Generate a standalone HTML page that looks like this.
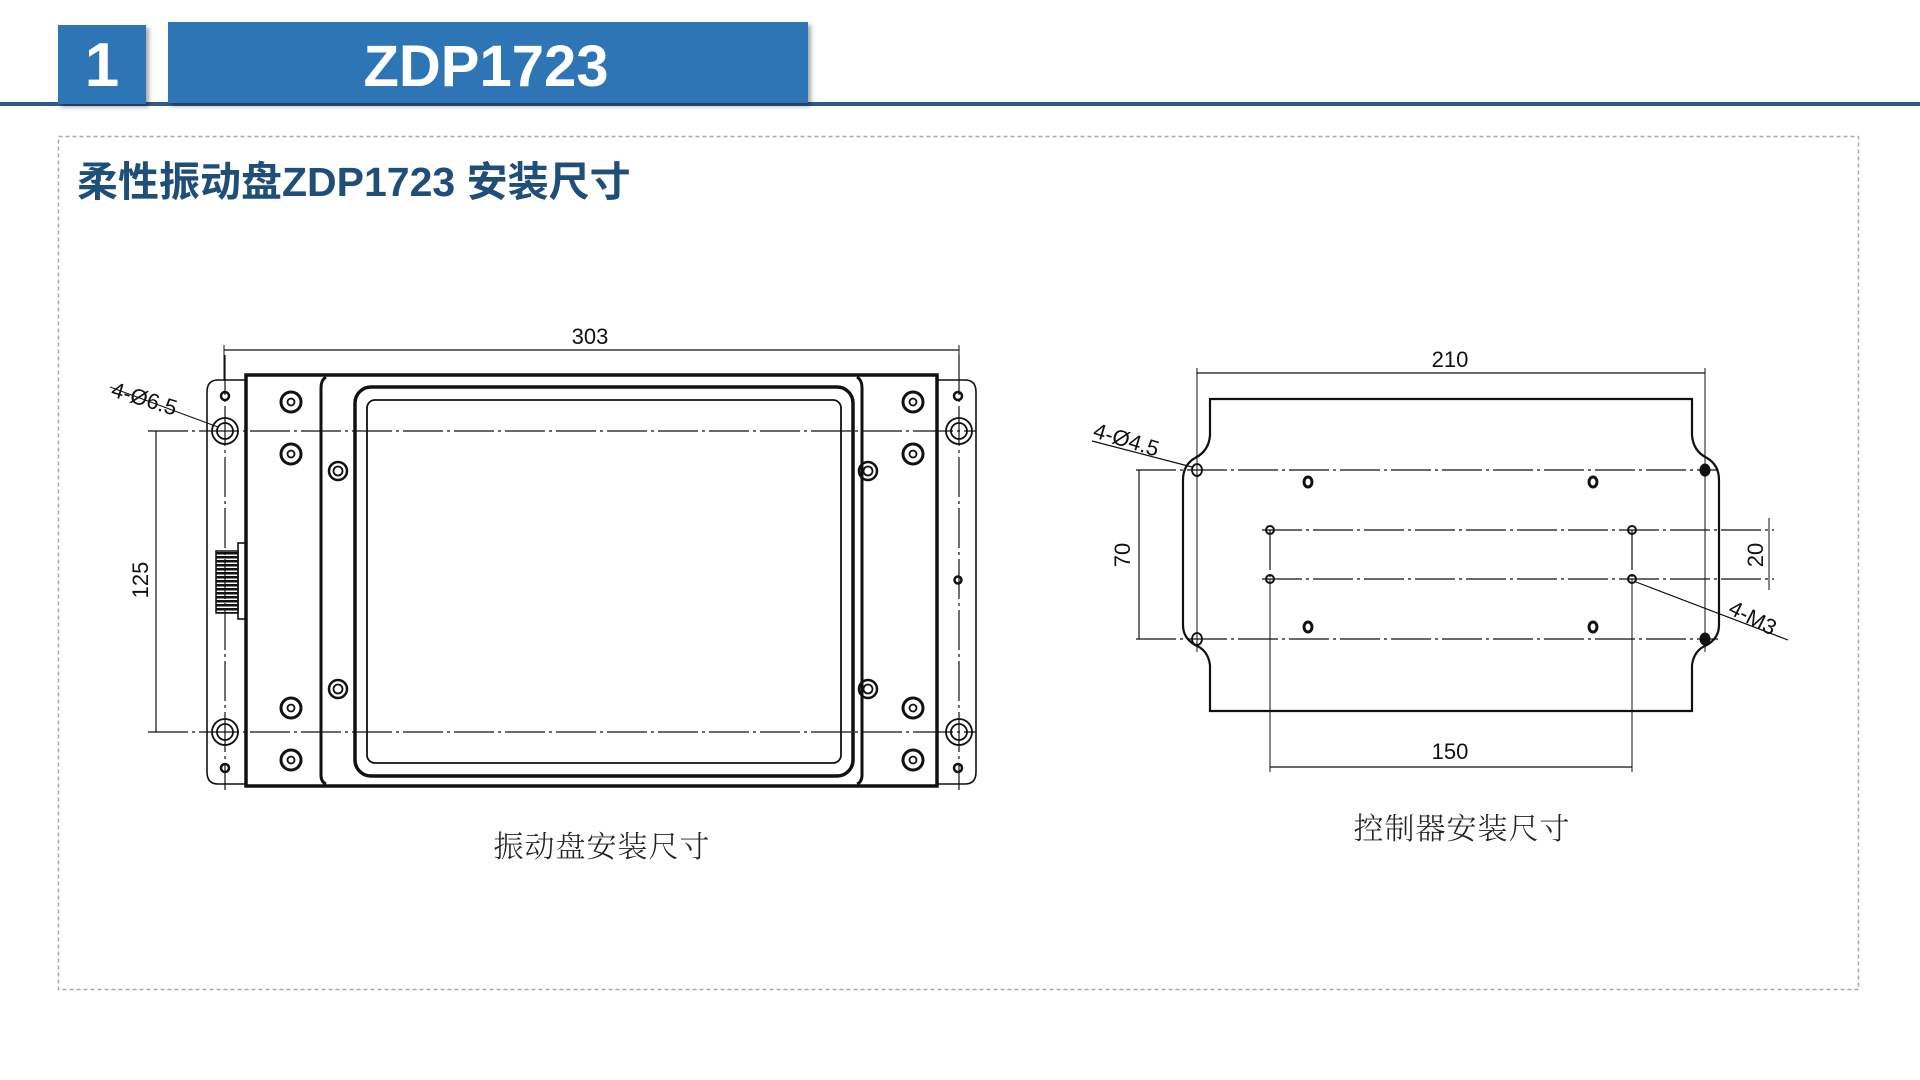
<!DOCTYPE html>
<html><head><meta charset="utf-8"><style>
html,body{margin:0;padding:0;background:#fff;width:1920px;height:1080px;overflow:hidden}
svg{display:block}
.t{font-family:"Liberation Sans",Arial,sans-serif;fill:#111}
.cj{font-family:"Noto Serif CJK SC","Noto Sans CJK SC",serif;fill:#222}
</style></head><body>
<svg width="1920" height="1080" viewBox="0 0 1920 1080" xmlns="http://www.w3.org/2000/svg">
<defs>
<filter id="sh" x="-10%" y="-10%" width="130%" height="130%"><feDropShadow dx="3" dy="3" stdDeviation="2" flood-color="#000" flood-opacity="0.35"/></filter>
<pattern id="rib" width="22" height="4" patternUnits="userSpaceOnUse"><rect width="22" height="2.5" fill="#111"/></pattern>
</defs>
<!-- header -->
<rect x="0" y="102" width="1920" height="4" fill="#2f5b8c"/>
<rect x="58" y="25" width="88" height="79" fill="#2e75b6" filter="url(#sh)"/>
<text x="102" y="86" text-anchor="middle" font-family="Liberation Sans,sans-serif" font-weight="bold" font-size="62" fill="#fff">1</text>
<rect x="168" y="22" width="640" height="81" fill="#2e75b6" filter="url(#sh)"/>
<text x="486" y="86" text-anchor="middle" font-family="Liberation Sans,sans-serif" font-weight="bold" font-size="58" fill="#fff">ZDP1723</text>
<rect x="58.5" y="136.5" width="1800" height="853" fill="none" stroke="#aaa" stroke-width="1.5" stroke-dasharray="4,3"/>
<text x="77" y="196" font-family="Liberation Sans,'Noto Sans CJK SC',sans-serif" font-weight="bold" font-size="41" fill="#1f4e79">柔性振动盘ZDP1723 安装尺寸</text>

<!-- LEFT DRAWING -->
<g stroke="#111" fill="none">
<path d="M246 380 H218 Q207 380 207 392 V772 Q207 784 218 784 H246" stroke-width="1.6"/>
<path d="M937 380 H965 Q976 380 976 392 V772 Q976 784 965 784 H937" stroke-width="1.6"/>
<rect x="246" y="375" width="691" height="411" stroke-width="3.5"/>
<path d="M326 377 Q321 380 321 388 V775 Q321 782 326 784" stroke-width="3"/>
<path d="M857 377 Q862 380 862 388 V775 Q862 782 857 784" stroke-width="3"/>
<rect x="355" y="387" width="498" height="389" rx="16" stroke-width="3.5"/>
<rect x="367" y="400" width="474" height="363" rx="8" stroke-width="1.8"/>
<g stroke-width="1.2" stroke-dasharray="40,4,3,4">
<line x1="148" y1="431" x2="976" y2="431"/>
<line x1="148" y1="732" x2="976" y2="732"/>
<line x1="225" y1="355" x2="225" y2="790"/>
<line x1="959" y1="355" x2="959" y2="790"/>
</g>
<line x1="224" y1="350" x2="959" y2="350" stroke-width="1.2"/>
<line x1="224" y1="345" x2="224" y2="380" stroke-width="1"/>
<line x1="959" y1="345" x2="959" y2="380" stroke-width="1"/>
<line x1="156" y1="431" x2="156" y2="732" stroke-width="1.2"/>
<line x1="110" y1="387" x2="218" y2="427" stroke-width="1"/>
<g stroke-width="1.8">
<circle cx="225" cy="431" r="13"/><circle cx="225" cy="431" r="8"/>
<circle cx="225" cy="732" r="13"/><circle cx="225" cy="732" r="8"/>
<circle cx="959" cy="431" r="13"/><circle cx="959" cy="431" r="8"/>
<circle cx="959" cy="732" r="13"/><circle cx="959" cy="732" r="8"/>
</g>
<g stroke-width="2.5">
<circle cx="225" cy="396" r="4"/><circle cx="225" cy="768" r="4"/>
<circle cx="958" cy="396" r="4"/><circle cx="958" cy="768" r="4"/><circle cx="958" cy="580" r="3.5"/>
</g>
<g stroke-width="3">
<circle cx="291" cy="402" r="10"/><circle cx="291" cy="454" r="10"/><circle cx="291" cy="708" r="10"/><circle cx="291" cy="760" r="10"/>
<circle cx="913" cy="402" r="10"/><circle cx="913" cy="454" r="10"/><circle cx="913" cy="708" r="10"/><circle cx="913" cy="760" r="10"/>
</g>
<g stroke-width="2.5">
<circle cx="338" cy="471" r="9"/><circle cx="338" cy="689" r="9"/><circle cx="868" cy="471" r="9"/><circle cx="868" cy="689" r="9"/>
</g>
<g stroke-width="1.8">
<circle cx="291" cy="402" r="3.5"/><circle cx="291" cy="454" r="3.5"/><circle cx="291" cy="708" r="3.5"/><circle cx="291" cy="760" r="3.5"/>
<circle cx="913" cy="402" r="3.5"/><circle cx="913" cy="454" r="3.5"/><circle cx="913" cy="708" r="3.5"/><circle cx="913" cy="760" r="3.5"/>
<circle cx="338" cy="471" r="4.5"/><circle cx="338" cy="689" r="4.5"/><circle cx="868" cy="471" r="4.5"/><circle cx="868" cy="689" r="4.5"/>
</g>
<rect x="238" y="543" width="8" height="76" stroke-width="1.6"/>
<rect x="216" y="551" width="22" height="62" fill="url(#rib)" stroke-width="1.5"/>
</g>
<text class="t" x="590" y="344" text-anchor="middle" font-size="22">303</text>
<text class="t" x="0" y="0" font-size="22" text-anchor="middle" transform="translate(148,580) rotate(-90)">125</text>
<text class="t" x="0" y="0" font-size="22" transform="translate(110,396) rotate(17)">4-Ø6.5</text>
<text class="cj" x="602" y="857" text-anchor="middle" font-size="30" font-weight="300" letter-spacing="1">振动盘安装尺寸</text>

<!-- RIGHT DRAWING -->
<g stroke="#111" fill="none">
<path d="M1210 711 V665 Q1208 650 1195 645 Q1183 638 1183 625 V480 Q1183 465 1195 458 Q1209 451 1210 435 V399 H1692 V435 Q1693 451 1707 458 Q1719 465 1719 480 V625 Q1719 638 1707 645 Q1694 650 1692 665 V711 Z" stroke-width="2.2"/>
<g stroke-width="1.2" stroke-dasharray="40,4,3,4">
<line x1="1136" y1="470" x2="1718" y2="470"/>
<line x1="1136" y1="639" x2="1718" y2="639"/>
<line x1="1262" y1="530" x2="1774" y2="530"/>
<line x1="1262" y1="579" x2="1774" y2="579"/>
<line x1="1270" y1="530" x2="1270" y2="579"/>
<line x1="1632" y1="530" x2="1632" y2="579"/>
</g>
<g stroke-width="1">
<line x1="1197" y1="368" x2="1197" y2="652"/>
<line x1="1705" y1="368" x2="1705" y2="652"/>
<line x1="1270" y1="579" x2="1270" y2="772"/>
<line x1="1632" y1="579" x2="1632" y2="772"/>
<line x1="1769" y1="518" x2="1769" y2="590"/>
</g>
<g stroke-width="1.2">
<line x1="1197" y1="373" x2="1705" y2="373"/>
<line x1="1270" y1="767" x2="1632" y2="767"/>
<line x1="1139" y1="470" x2="1139" y2="639"/>
<line x1="1092" y1="441" x2="1192" y2="467"/>
<line x1="1636" y1="582" x2="1788" y2="640"/>
</g>
<g stroke-width="1.8">
<ellipse cx="1197" cy="470" rx="5" ry="6"/><ellipse cx="1197" cy="639" rx="5" ry="6"/>
</g>
<ellipse cx="1705" cy="470" rx="5" ry="6" fill="#111"/><ellipse cx="1705" cy="639" rx="5" ry="6" fill="#111"/>
<g stroke-width="3">
<ellipse cx="1308" cy="482" rx="4" ry="5"/><ellipse cx="1593" cy="482" rx="4" ry="5"/>
<ellipse cx="1308" cy="627" rx="4" ry="5"/><ellipse cx="1593" cy="627" rx="4" ry="5"/>
</g>
<g stroke-width="2">
<circle cx="1270" cy="530" r="4"/><circle cx="1632" cy="530" r="4"/><circle cx="1270" cy="579" r="4"/><circle cx="1632" cy="579" r="4"/>
</g>
</g>
<text class="t" x="1450" y="367" text-anchor="middle" font-size="22">210</text>
<text class="t" x="1450" y="759" text-anchor="middle" font-size="22">150</text>
<text class="t" x="0" y="0" font-size="22" text-anchor="middle" transform="translate(1130,555) rotate(-90)">70</text>
<text class="t" x="0" y="0" font-size="22" text-anchor="middle" transform="translate(1763,555) rotate(-90)">20</text>
<text class="t" x="0" y="0" font-size="22" transform="translate(1092,437) rotate(17)">4-Ø4.5</text>
<text class="t" x="0" y="0" font-size="22" transform="translate(1727,613) rotate(27)">4-M3</text>
<text class="cj" x="1462" y="839" text-anchor="middle" font-size="30" font-weight="300" letter-spacing="1">控制器安装尺寸</text>
</svg>
</body></html>
